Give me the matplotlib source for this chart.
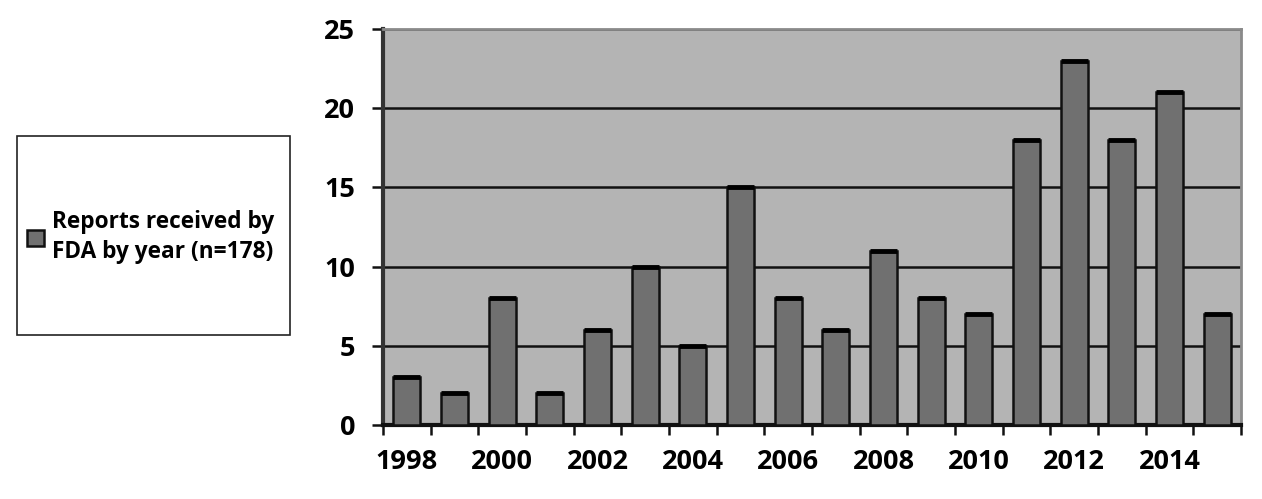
import matplotlib
matplotlib.use("Agg")
import matplotlib.pyplot as plt
from matplotlib.patches import Rectangle, Patch
import numpy as np

years = [1998, 1999, 2000, 2001, 2002, 2003, 2004, 2005, 2006, 2007, 2008,
         2009, 2010, 2011, 2012, 2013, 2014, 2015]
reports = [3, 2, 8, 2, 6, 10, 5, 15, 8, 6, 11, 8, 7, 18, 23, 18, 21, 7]
year_labels = [str(y) if i % 2 == 0 else "" for i, y in enumerate(years)]
yticks = [0, 5, 10, 15, 20, 25]
legend_label = "Reports received by\nFDA by year (n=178)"

FONT = ["Open Sans", "DejaVu Sans"]
plt.rcParams["font.family"] = FONT

W, H = 1262, 499
fig = plt.figure(figsize=(W / 100, H / 100), dpi=100)
ax = fig.add_axes([383 / W, 1 - 425 / H, (1241 - 383) / W, (425 - 29) / H])

ax.set_facecolor("#b4b4b4")
x = np.arange(len(years))
bars = ax.bar(x, reports, width=0.57, color="#707070", edgecolor="#111111",
              linewidth=1.8, zorder=3)
for xi, v in zip(x, reports):
    ax.plot([xi - 0.285, xi + 0.285], [v, v], color="black", lw=3.5,
            zorder=4, solid_capstyle="butt")

ax.set_xlim(-0.5, len(years) - 0.5)
ax.set_ylim(0, 25)
ax.set_yticks(yticks)
ax.set_yticklabels([str(t) for t in yticks], fontsize=19.5, fontweight="bold")
ax.yaxis.grid(True, color="#111111", linewidth=1.8, zorder=1)
ax.set_axisbelow(True)

ax.set_xticks(np.arange(len(years) + 1) - 0.5)
ax.set_xticklabels([])
ax.set_xticks(x, minor=True)
ax.set_xticklabels(year_labels, minor=True, fontsize=19.5, fontweight="bold")
ax.tick_params(axis="x", which="major", length=7, width=1.8, color="#111111",
               direction="out")
ax.tick_params(axis="x", which="minor", length=0, pad=17)
ax.tick_params(axis="y", length=8, width=1.8, color="#111111", pad=12)

ax.spines["left"].set_linewidth(3)
ax.spines["left"].set_color("#333333")
ax.spines["bottom"].set_linewidth(3)
ax.spines["bottom"].set_color("#111111")
ax.spines["right"].set_linewidth(2)
ax.spines["right"].set_color("#8a8a8a")
ax.spines["top"].set_linewidth(2)
ax.spines["top"].set_color("#8a8a8a")

# legend box
fig.patches.append(Rectangle((17 / W, 1 - 335 / H), (290 - 17) / W, (335 - 136) / H,
                             transform=fig.transFigure, facecolor="white",
                             edgecolor="#222222", linewidth=1.2))
handle = Patch(facecolor="#707070", edgecolor="#111111", linewidth=1.8)
leg = fig.legend([handle], [legend_label], loc="center left",
                 bbox_to_anchor=(27 / W, 1 - 237 / H), frameon=False,
                 prop={"family": FONT, "weight": "bold", "size": 16.3},
                 handlelength=0.75, handleheight=0.75, handletextpad=0.35,
                 borderpad=0, borderaxespad=0)
for t in leg.get_texts():
    t.set_linespacing(1.3)

fig.savefig("out.png", dpi=100)
